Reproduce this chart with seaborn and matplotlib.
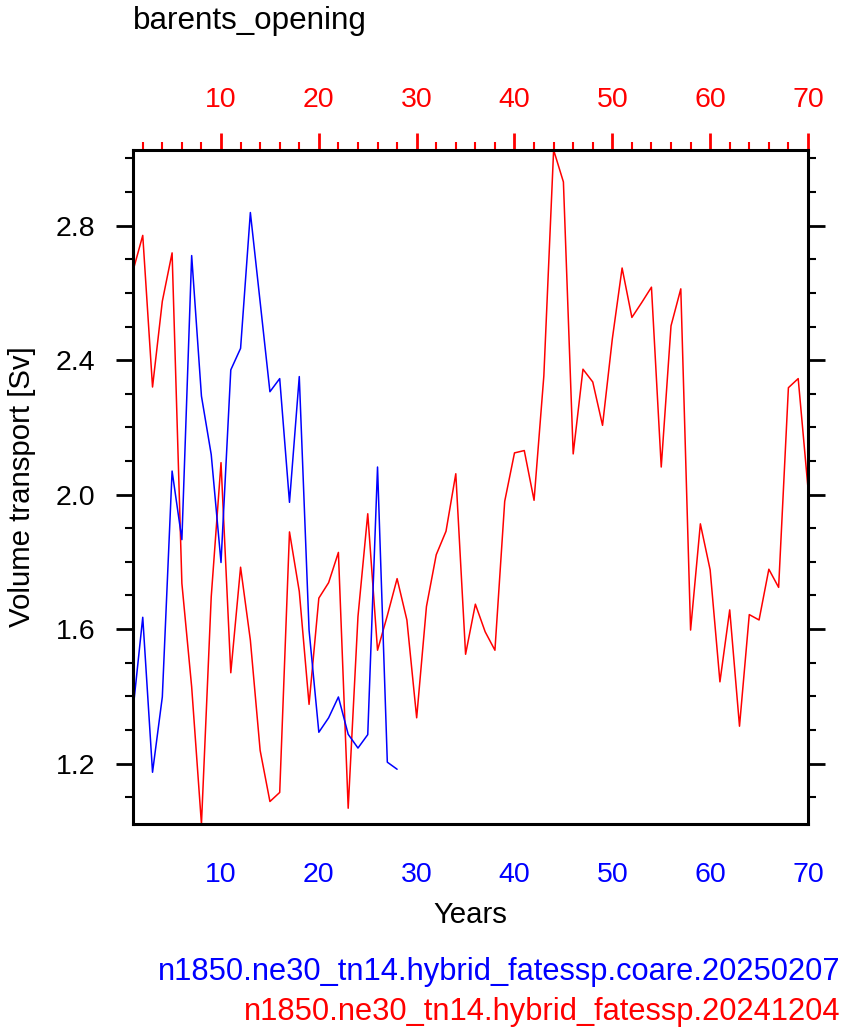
import numpy as np
import pandas as pd
import matplotlib
matplotlib.use('Agg')
import matplotlib.pyplot as plt
import seaborn as sns
from matplotlib.ticker import MultipleLocator

# ==================== data ====================
years_red = list(range(1, 71))
transport_red = [
    2.665, 2.771, 2.320, 2.575, 2.719, 1.736, 1.428, 1.020, 1.696, 2.095,
    1.470, 1.784, 1.567, 1.239, 1.087, 1.114, 1.889, 1.712, 1.376, 1.692,
    1.738, 1.828, 1.067, 1.637, 1.943, 1.537, 1.640, 1.750, 1.627, 1.336,
    1.667, 1.821, 1.891, 2.062, 1.525, 1.674, 1.592, 1.537, 1.980, 2.124,
    2.131, 1.983, 2.353, 3.025, 2.930, 2.121, 2.373, 2.335, 2.206, 2.463,
    2.674, 2.527, 2.571, 2.617, 2.082, 2.502, 2.612, 1.597, 1.913, 1.776,
    1.443, 1.657, 1.311, 1.643, 1.627, 1.778, 1.724, 2.318, 2.345, 2.020,
]

years_blue = list(range(1, 29))
transport_blue = [
    1.358, 1.635, 1.174, 1.398, 2.070, 1.866, 2.711, 2.293, 2.119, 1.798,
    2.371, 2.435, 2.839, 2.573, 2.306, 2.345, 1.977, 2.351, 1.597, 1.293,
    1.336, 1.398, 1.287, 1.246, 1.286, 2.082, 1.204, 1.183,
]

title = "barents_opening"
label_blue = "n1850.ne30_tn14.hybrid_fatessp.coare.20250207"
label_red = "n1850.ne30_tn14.hybrid_fatessp.20241204"

# ==================== style ====================
sns.set_style('white')
plt.rcParams['font.family'] = ['Liberation Sans', 'DejaVu Sans']
plt.rcParams['text.color'] = 'black'
plt.rcParams['axes.labelcolor'] = 'black'
plt.rcParams['xtick.color'] = 'black'
plt.rcParams['ytick.color'] = 'black'

fig = plt.figure(figsize=(8.48, 10.36), dpi=100)
ax = fig.add_axes([0.1568, 0.2046, 0.7960, 0.6506])

df_red = pd.DataFrame({'Years': years_red, 'transport': transport_red})
df_blue = pd.DataFrame({'Years': years_blue, 'transport': transport_blue})

sns.lineplot(data=df_red, x='Years', y='transport', color='red', lw=1.1, ax=ax)
sns.lineplot(data=df_blue, x='Years', y='transport', color='blue', lw=1.1, ax=ax)

ax.set_xlim(1, 70)
ymin = min(min(transport_red), min(transport_blue))
ymax = max(max(transport_red), max(transport_blue))
ax.set_ylim(ymin, ymax)

for s in ax.spines.values():
    s.set_linewidth(2.2)
    s.set_color('black')

ax.xaxis.set_major_locator(MultipleLocator(10))
ax.xaxis.set_minor_locator(MultipleLocator(2))
ax.yaxis.set_major_locator(MultipleLocator(0.4))
ax.yaxis.set_minor_locator(MultipleLocator(0.1))
ax.yaxis.set_major_formatter(matplotlib.ticker.FormatStrFormatter('%.1f'))

tick_fs = 20.5
ax.tick_params(axis='x', which='major', direction='out', length=12, width=2,
               color='blue', labelcolor='blue', labelsize=tick_fs, pad=15)
ax.tick_params(axis='x', which='minor', direction='out', length=6, width=1.5,
               color='blue')
ax.tick_params(axis='y', which='major', direction='out', length=12, width=2,
               left=True, right=True, labelsize=tick_fs, pad=15,
               color='black', labelcolor='black')
ax.tick_params(axis='y', which='minor', direction='out', length=6, width=1.5,
               left=True, right=True, color='black')

# top axis for the red run
top = ax.secondary_xaxis('top')
top.xaxis.set_major_locator(MultipleLocator(10))
top.xaxis.set_minor_locator(MultipleLocator(2))
top.tick_params(axis='x', which='major', direction='out', length=12, width=2,
                color='red', labelcolor='red', labelsize=tick_fs, pad=15)
top.tick_params(axis='x', which='minor', direction='out', length=6, width=1.5,
                color='red')
top.spines['top'].set_visible(False)

ax.set_xlabel('Years', fontsize=21.2, labelpad=10)
ax.set_ylabel('Volume transport [Sv]', fontsize=21.2, labelpad=14)

fig.text(133 / 848, 1 - 29 / 1036, title, fontsize=22.6, ha='left', va='baseline')
fig.text(840 / 848, 1 - 980 / 1036, label_blue, fontsize=22.2, color='blue',
         ha='right', va='baseline')
fig.text(840 / 848, 1 - 1020 / 1036, label_red, fontsize=22.2, color='red',
         ha='right', va='baseline')

fig.savefig('out.png', dpi=100)
